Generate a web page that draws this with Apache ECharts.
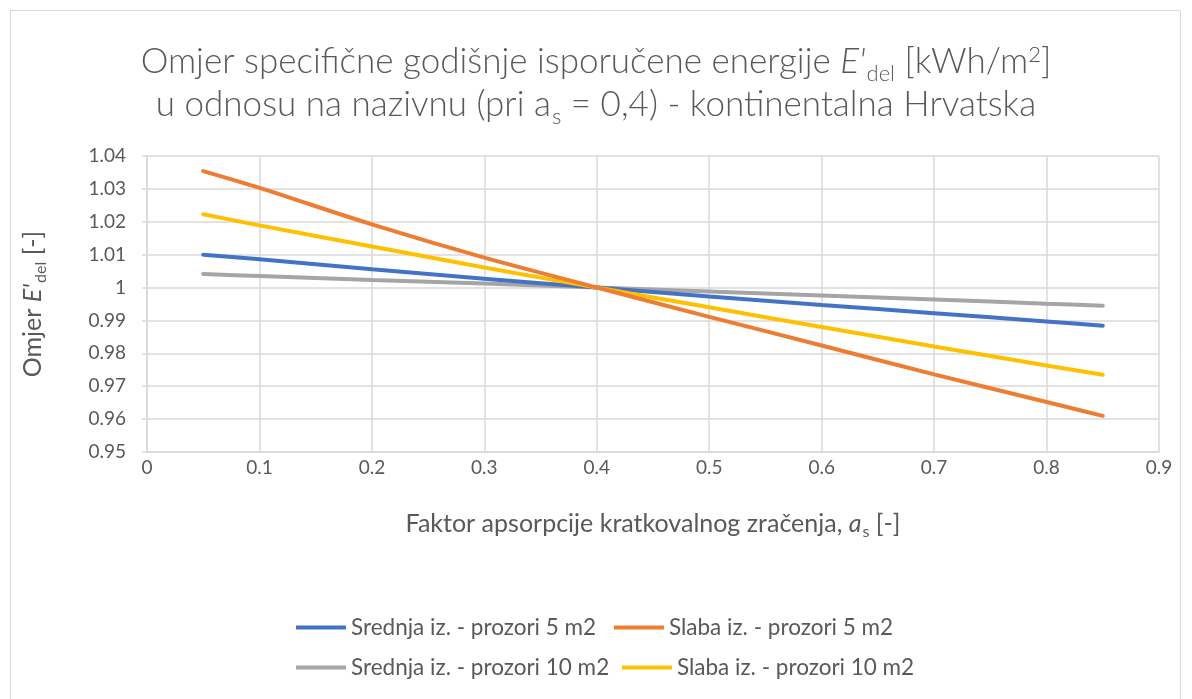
<!DOCTYPE html>
<html>
<head>
<meta charset="utf-8">
<script src="https://cdn.jsdelivr.net/npm/echarts@6/dist/echarts.min.js"></script>
<style>
  html, body { margin: 0; padding: 0; background: #ffffff; }
  #chart { width: 1192px; height: 699px; }
</style>
</head>
<body>
<div id="chart"></div>
<script>
// Absorption factor a_s [-]
const absorption = [0.05, 0.1, 0.2, 0.3, 0.4, 0.5, 0.6, 0.7, 0.8, 0.85];

// Ratio E'del / E'del(a_s = 0.4)
const srednja5  = [1.0100, 1.0086, 1.0056, 1.0027, 1.0, 0.9973, 0.9947, 0.9922, 0.9897, 0.9884];
const slaba5    = [1.0354, 1.0303, 1.0192, 1.0091, 1.0, 0.9911, 0.9824, 0.9736, 0.9652, 0.9610];
const srednja10 = [1.0041, 1.0035, 1.0023, 1.0012, 1.0, 0.9988, 0.9976, 0.9964, 0.9951, 0.9945];
const slaba10   = [1.0223, 1.0189, 1.0125, 1.0061, 1.0, 0.9940, 0.9880, 0.9821, 0.9763, 0.9735];

const seriesNames = [
  'Srednja iz. - prozori 5 m2',
  'Slaba iz. - prozori 5 m2',
  'Srednja iz. - prozori 10 m2',
  'Slaba iz. - prozori 10 m2'
];
const seriesValues = [srednja5, slaba5, srednja10, slaba10];
const seriesColors = ['#4472C4', '#ED7D31', '#A5A5A5', '#FFC000'];

const FONT = 'Lato';
const TXT = '#595959';
const GRID = '#d9d9d9';

const chart = echarts.init(document.getElementById('chart'), null, { renderer: 'canvas' });

function pairs(vals) {
  return absorption.map((x, i) => [x, vals[i]]);
}

// one legend entry per slot: [series index, left, top]
const legendSlots = [[0, 296, 616], [1, 614, 616], [2, 296, 656], [3, 622, 656]];
const legends = legendSlots.map(([k, left, top]) => ({
  left, top,
  padding: 0,
  data: [seriesNames[k]],
  itemWidth: 50,
  itemHeight: 4,
  itemGap: 0,
  icon: 'rect',
  textStyle: { fontFamily: FONT, fontSize: 22.5, color: TXT }
}));

// rich-text styles with lowered subscripts and raised superscripts
const richBase = (size, weight, subShift, supShift) => {
  const small = Math.round(size * 0.62);
  return {
    a:   { fontFamily: FONT, fontSize: size, color: TXT, fontWeight: weight, lineHeight: size + 8, verticalAlign: 'middle' },
    i:   { fontFamily: FONT, fontSize: size, color: TXT, fontWeight: weight, lineHeight: size + 8, fontStyle: 'italic', verticalAlign: 'middle' },
    sub: { fontFamily: FONT, fontSize: small, color: TXT, fontWeight: weight, lineHeight: 2, verticalAlign: 'middle', padding: [subShift * 2, 0, 0, 1] },
    sup: { fontFamily: FONT, fontSize: small, color: TXT, fontWeight: weight, lineHeight: 2, verticalAlign: 'middle', padding: [0, 0, supShift * 2, 0] }
  };
};

chart.setOption({
  animation: false,
  backgroundColor: '#ffffff',
  graphic: [{
    type: 'rect',
    shape: { x: 10.5, y: 10.5, width: 1170, height: 700 },
    style: { fill: 'none', stroke: GRID, lineWidth: 1 },
    silent: true
  }],
  title: {
    left: 'center',
    top: 35,
    text: "{a|Omjer specifične godišnje isporučene energije }{i|E'}{sub|del}{a| [kWh/m}{sup|2}{a|]}\n" +
          "{a|u odnosu na nazivnu (pri a}{sub|s}{a| = 0,4) - kontinentalna Hrvatska}",
    textStyle: { fontWeight: 300, rich: richBase(35, 300, 12, 7) }
  },
  legend: legends,
  grid: { left: 147, top: 156, width: 1012, height: 296, containLabel: false },
  xAxis: {
    type: 'value',
    min: 0, max: 0.9, interval: 0.1,
    name: "{a|Faktor apsorpcije kratkovalnog zračenja, }{i|a}{sub|s}{a| [-]}",
    nameLocation: 'middle',
    nameGap: 55,
    nameTextStyle: { rich: richBase(25, 'normal', 8, 5) },
    axisLine: { show: true, lineStyle: { color: GRID, width: 1.5 } },
    axisTick: { show: false },
    axisLabel: {
      fontFamily: FONT, fontSize: 19, color: TXT, margin: 6,
      formatter: v => String(+v.toFixed(2))
    },
    splitLine: { show: true, lineStyle: { color: GRID, width: 1.5 } }
  },
  yAxis: {
    type: 'value',
    min: 0.95, max: 1.04, interval: 0.01,
    name: "{a|Omjer }{i|E'}{sub|del}{a| [-]}",
    nameLocation: 'middle',
    nameRotate: 90,
    nameGap: 98,
    nameTextStyle: { rich: richBase(25, 'normal', 8, 5) },
    axisLine: { show: true, lineStyle: { color: GRID, width: 1.5 } },
    axisTick: { show: true, length: 5, lineStyle: { color: GRID, width: 1.5 } },
    axisLabel: {
      fontFamily: FONT, fontSize: 19, color: TXT, margin: 21,
      formatter: v => String(+v.toFixed(2))
    },
    splitLine: { show: true, lineStyle: { color: GRID, width: 1.5 } }
  },
  series: seriesNames.map((name, k) => ({
    name,
    type: 'line',
    data: pairs(seriesValues[k]),
    showSymbol: false,
    symbol: 'none',
    smooth: 0.3,
    lineStyle: { color: seriesColors[k], width: 4, cap: 'round' },
    itemStyle: { color: seriesColors[k] },
    z: [2, 4, 1, 3][k]
  }))
});
</script>
</body>
</html>
